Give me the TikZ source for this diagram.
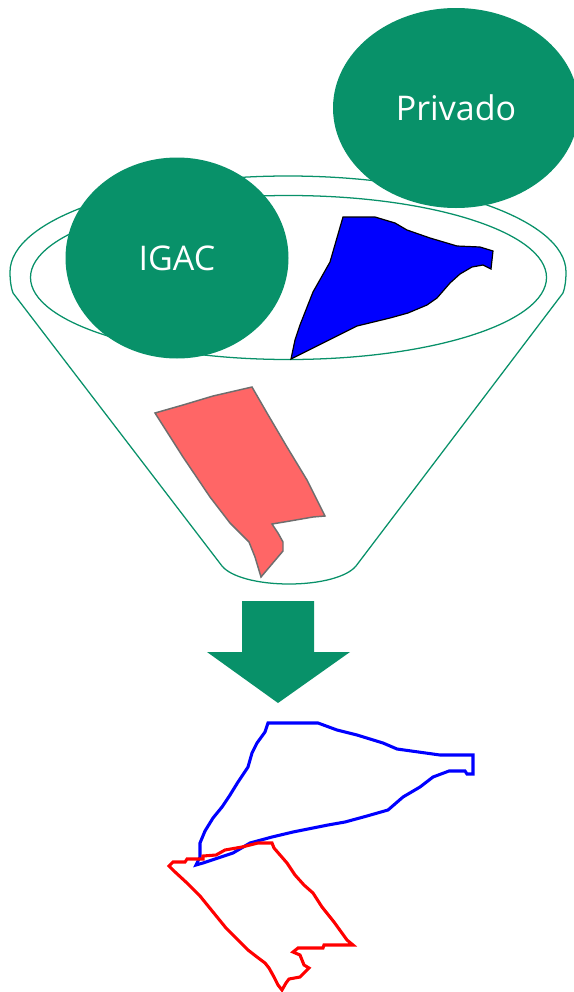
\documentclass[tikz,border=0pt]{standalone}
\usepackage{fontspec}
\setmainfont{Open Sans}
\usetikzlibrary{shapes.geometric}
\definecolor{embudo}{HTML}{089169}
\definecolor{rojizo}{HTML}{FF6666}
\definecolor{borde}{HTML}{6E6E6E}
\tikzset{
  origen/.style={ellipse,fill=embudo,inner sep=0pt,text=white,font=\fontsize{25.5}{30}\selectfont},
  contorno/.style={line width=2.3pt,line join=miter},
}
\begin{document}
\begin{tikzpicture}[x=0.75pt,y=-0.75pt]
\useasboundingbox (0,0) rectangle (574,992);
\clip (0,0) rectangle (574,992);
% funnel
\draw[embudo,line width=0.95pt] (13,293) .. controls (11,288) and (10,280) .. (10,272)
  .. controls (10,219) and (135,176) .. (288,176)
  .. controls (441,176) and (566,219) .. (566,272)
  .. controls (566,280) and (565,288) .. (563,293)
  -- (356,566) .. controls (347,577) and (320,584) .. (289,584)
  .. controls (258,584) and (231,577) .. (222,566) -- cycle;
\draw[embudo,line width=0.95pt] (288.5,277.5) ellipse [x radius=258,y radius=82];
% parcels in the funnel
\draw[fill=blue,draw=black,line width=0.9pt] plot coordinates {
  (291,359)(295,340)(300,325)(313,292)(330,262)(343,217)(375,217)(395,223)(407,230)(430,238)
  (457,246)(480,247)(493,251)(492,260)(491,269)(483,265)(472,267)(460,274)(450,283)
  (437,298)(427,305)(408,313)(390,318)(357,326)(337,336)(313,348)} -- cycle;
\draw[fill=rojizo,draw=borde,line width=1.1pt] plot coordinates {
  (155,413)(183,405)(213,396)(252,387)(267,413)(287,447)(307,480)(325,516)(313,517)
  (290,521)(272,524)(278,533)(283,542)(283,551)(261,577)(255,557)(249,542)(230,523)
  (210,497)(183,457)} -- cycle;
% sources
\node[origen,minimum width=167.25pt,minimum height=150.75pt] (igac) at (177,258) {IGAC};
\node[origen,minimum width=184.5pt,minimum height=150pt] (privado) at (456,108) {Privado};
% arrow
\fill[embudo] (242,601) -- (314,601) -- (314,652) -- (350,652) -- (278,703) -- (207,652) -- (242,652) -- cycle;
% outlines
\draw[blue,contorno] plot coordinates {
  (268,723)(318,723)(337,730)(357,735)(383,743)(397,749)(440,755)(473,755)(473,774)
  (467,774)(465,771)(449,771)(433,777)(420,787)(403,797)(388,810)(367,816)(345,822)
  (328,825)(293,832)(272,837)(250,843)(233,853)(203,863)(196,865)(200,857)(200,843)
  (205,831)(213,818)(222,807)(230,795)(238,782)(248,767)(252,753)(257,743)(265,732)} -- cycle;
\draw[red,contorno] plot coordinates {
  (169,866)(173,862)(185,862)(187,859)(203,859)(203,856)(216,855)(225,850)(242,847)
  (258,843)(272,843)(274,848)(287,863)(295,875)(304,885)(313,893)(322,907)(334,922)
  (347,940)(353,945)(324,945)(323,948)(298,948)(293,952)(300,955)(304,965)(309,968)
  (304,973)(300,977)(289,979)(286,983)(282,990)(278,985)(274,977)(269,968)(265,963)
  (257,957)(248,950)(235,937)(226,928)(213,912)(200,896)(187,883)(174,871)} -- cycle;
\end{tikzpicture}
\end{document}
